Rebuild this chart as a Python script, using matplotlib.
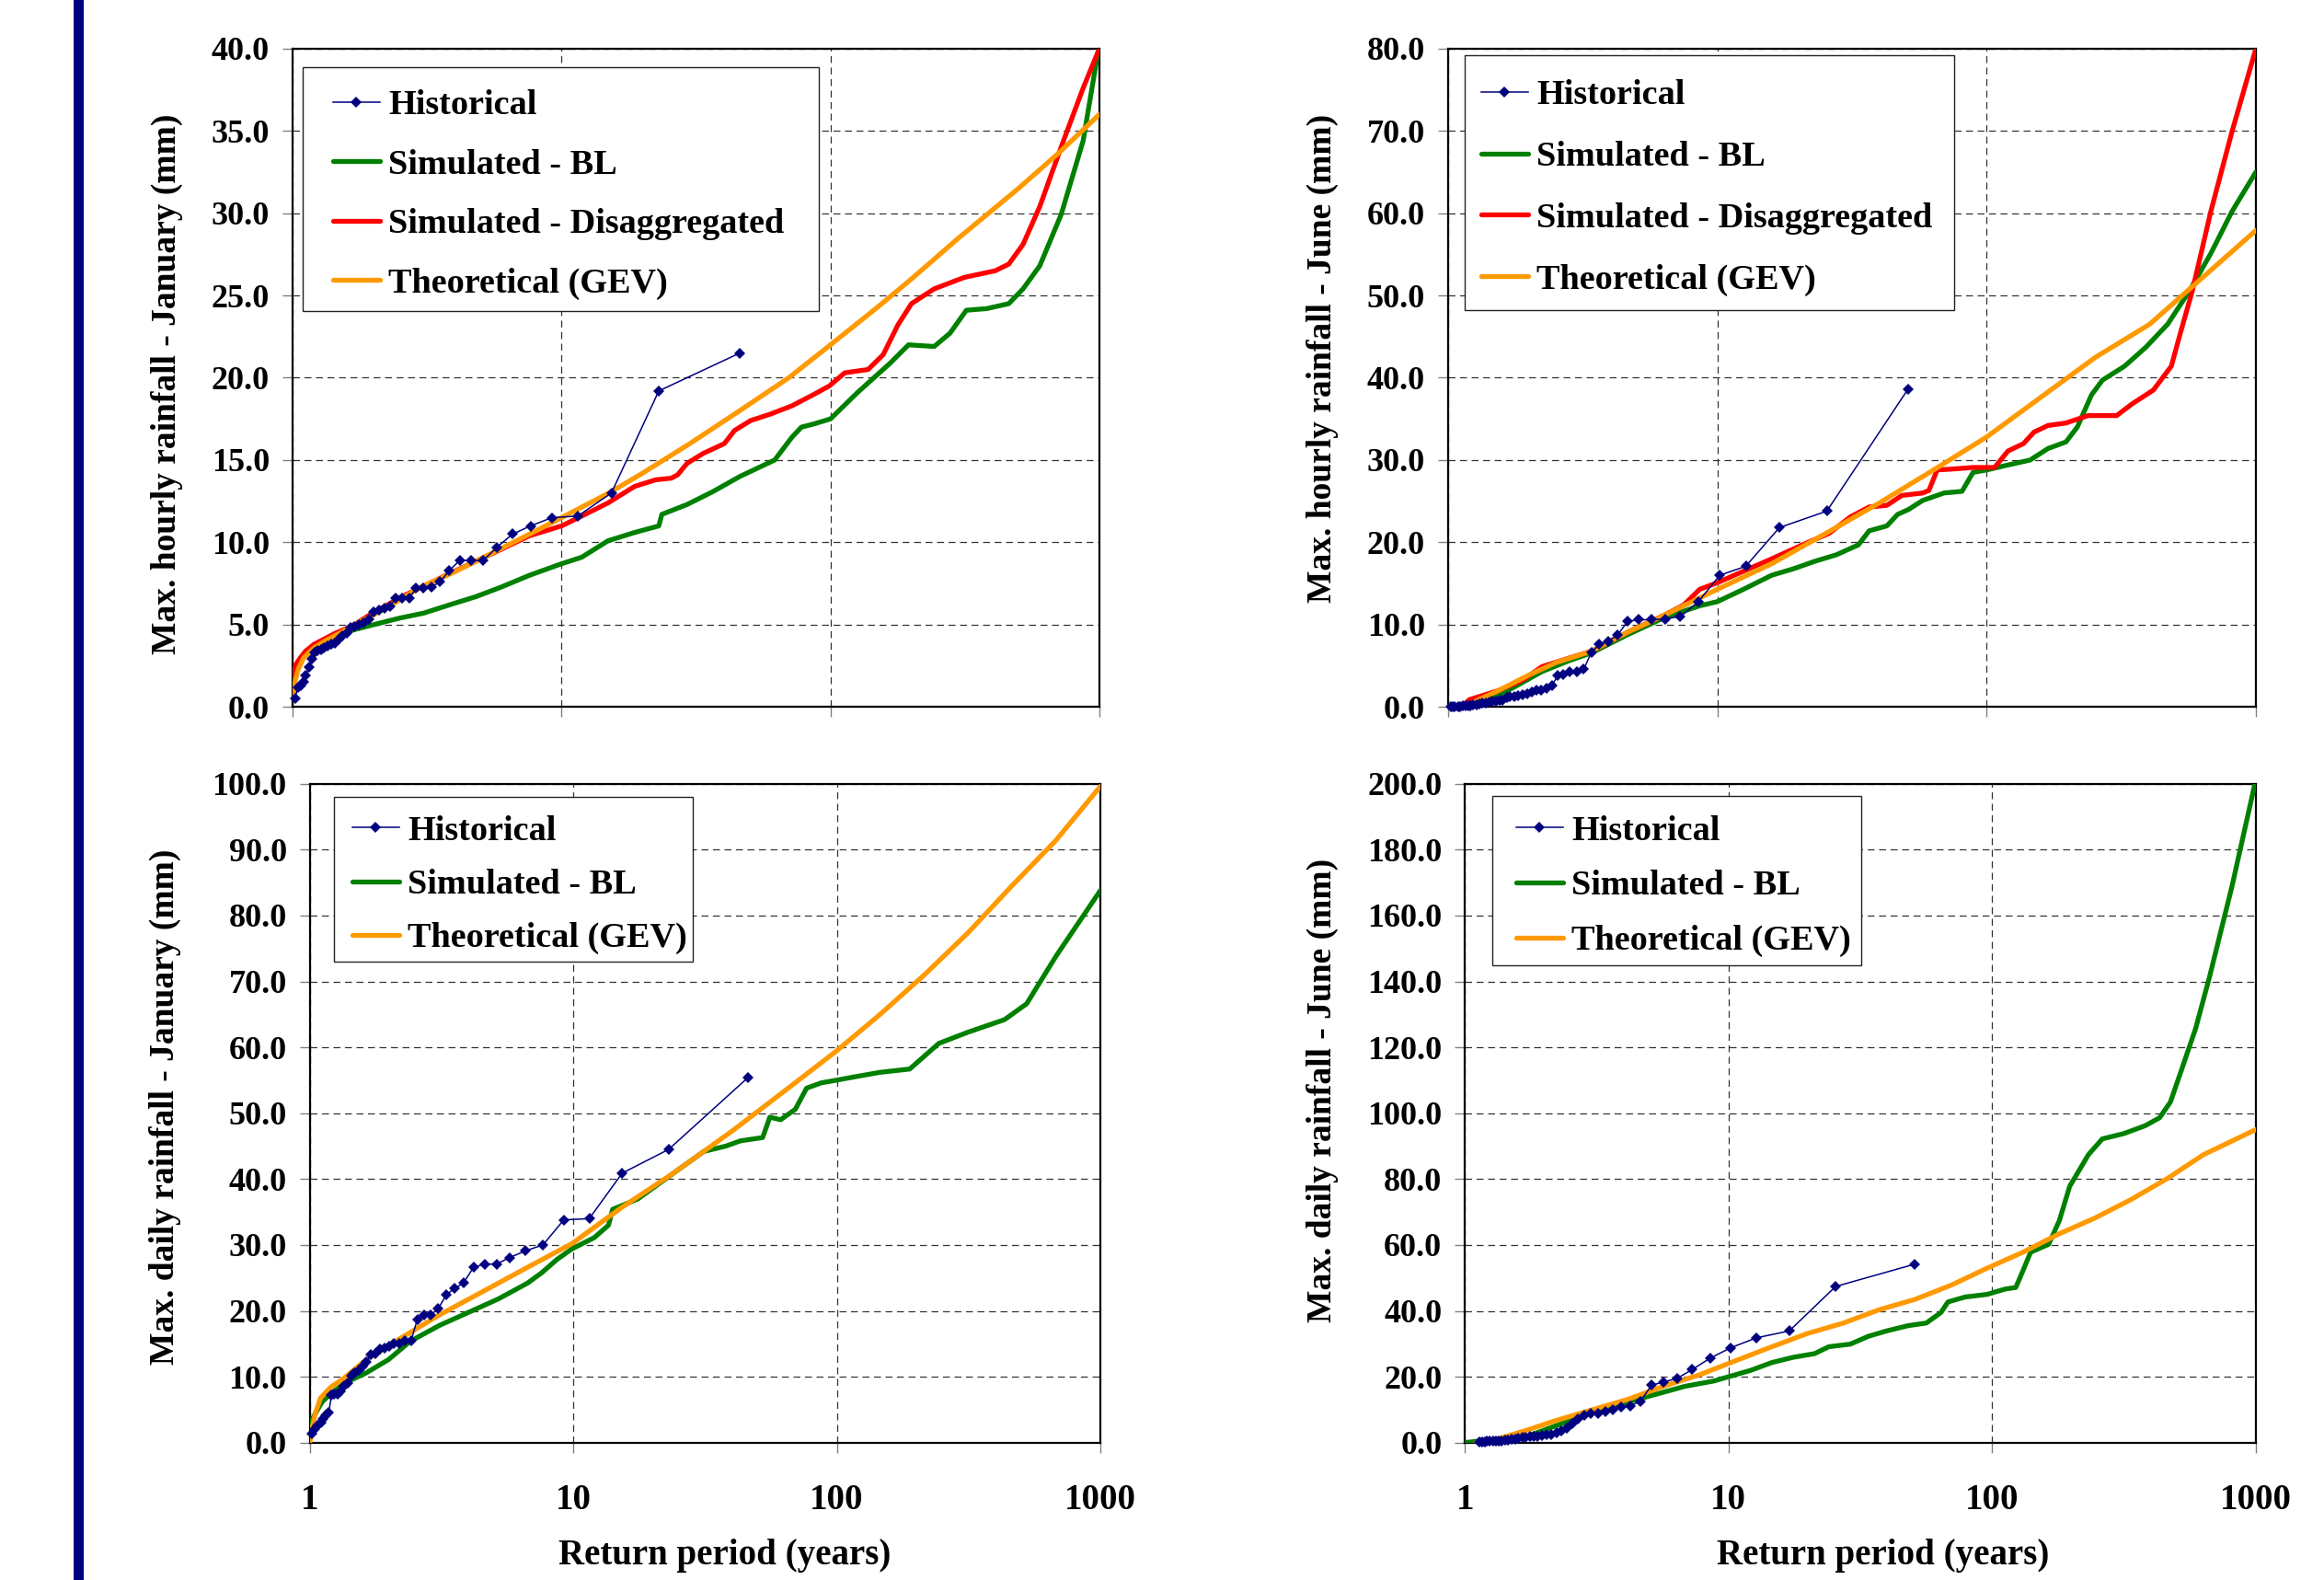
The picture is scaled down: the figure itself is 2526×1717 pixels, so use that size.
import matplotlib
matplotlib.use("Agg")
import matplotlib.pyplot as plt
from matplotlib.patches import Rectangle
from matplotlib.ticker import FixedLocator, NullLocator, FormatStrFormatter

plt.rcParams['font.family'] = ['Liberation Serif', 'DejaVu Serif']
plt.rcParams['font.weight'] = 'bold'
plt.rcParams['axes.labelweight'] = 'bold'

# ---------------- data ----------------
# Historical return periods (years)
hist_T_45 = [46.0, 23.0, 15.33, 11.5, 9.2, 7.67, 6.57, 5.75, 5.11, 4.6,
             4.18, 3.83, 3.54, 3.29, 3.07, 2.88, 2.71, 2.56, 2.42, 2.3,
             2.19, 2.09, 2.0, 1.92, 1.84, 1.77, 1.70, 1.64, 1.59, 1.53,
             1.48, 1.44, 1.39, 1.35, 1.31, 1.28, 1.24, 1.21, 1.18, 1.15,
             1.12, 1.10, 1.07, 1.045, 1.022]
hist_T_50 = [51.0, 25.5, 17.0, 12.75, 10.2, 8.5, 7.29, 6.38, 5.67, 5.1,
             4.64, 4.25, 3.92, 3.64, 3.4, 3.19, 3.0, 2.83, 2.68, 2.55,
             2.43, 2.32, 2.22, 2.13, 2.04, 1.96, 1.89, 1.82, 1.76, 1.70,
             1.65, 1.59, 1.55, 1.50, 1.46, 1.42, 1.38, 1.34, 1.31, 1.28,
             1.24, 1.21, 1.19, 1.16, 1.13, 1.11, 1.09, 1.06, 1.04, 1.02]

# Panel 1: max hourly rainfall - January
jh_hist = [21.5, 19.2, 13.0, 11.6, 11.5, 11.0, 10.5, 9.7, 8.9, 8.9,
           8.9, 8.3, 7.6, 7.3, 7.2, 7.2, 6.6, 6.6, 6.6, 6.1,
           6.0, 5.9, 5.8, 5.3, 5.1, 5.0, 4.9, 4.8, 4.5, 4.3,
           4.1, 3.9, 3.8, 3.7, 3.6, 3.5, 3.4, 3.3, 2.9, 2.4,
           1.9, 1.5, 1.3, 1.2, 0.5]
jh_bl_T = [1.0, 1.03, 1.07, 1.12, 1.2, 1.3, 1.5, 1.7, 2.0, 2.5, 3.07, 4.0, 4.8,
           6.0, 7.6, 10, 11.9, 14.9, 18.7, 23.0, 23.6, 29.3, 36.7, 46, 55, 62,
           72, 78, 87, 100, 126, 167, 195, 243, 278, 320, 381, 460, 520, 600,
           720, 870, 1000]
jh_bl_v = [1.3, 2.2, 2.9, 3.4, 3.7, 4.0, 4.4, 4.7, 5.0, 5.4, 5.7, 6.3, 6.7,
           7.3, 8.0, 8.7, 9.1, 10.1, 10.6, 11.0, 11.7, 12.3, 13.1, 14.0, 14.6, 15.0,
           16.4, 17.0, 17.2, 17.5, 19.1, 20.9, 22.0, 21.9, 22.7, 24.1, 24.2, 24.5, 25.4, 26.8,
           29.9, 34.4, 40.3]
jh_dis_T = [1.0, 1.03, 1.07, 1.12, 1.2, 1.3, 1.45, 1.66, 1.94, 2.55, 3.83, 6.0,
            7.6, 10, 11.9, 14.9, 18.7, 22.4, 25.6, 27, 29.3, 33.6, 40.3, 44,
            50.5, 60, 72, 87, 99, 113, 138, 157, 178, 200, 243, 315, 410, 460,
            520, 600, 720, 870, 1000]
jh_dis_v = [1.9, 2.6, 3.0, 3.4, 3.8, 4.1, 4.5, 4.9, 5.6, 6.7, 8.1, 9.6,
            10.4, 11.0, 11.6, 12.4, 13.4, 13.8, 13.9, 14.1, 14.8, 15.4, 16.0, 16.8,
            17.4, 17.8, 18.3, 19.0, 19.5, 20.3, 20.5, 21.4, 23.2, 24.5, 25.4, 26.1, 26.5, 26.9,
            28.1, 30.4, 34.0, 37.6, 40.0]
jh_gev_T = [1.0, 1.02, 1.05, 1.1, 1.2, 1.35, 1.5, 1.75, 2.0, 2.5, 3.0, 4.0, 5.0,
            7.0, 10, 15, 20, 30, 46, 70, 100, 150, 200, 300, 500, 700, 1000]
jh_gev_v = [0.5, 1.5, 2.3, 3.0, 3.6, 4.1, 4.5, 5.1, 5.6, 6.5, 7.3, 8.2, 9.0,
            10.2, 11.5, 13.0, 14.2, 16.0, 18.0, 20.0, 22.0, 24.3, 26.0, 28.5, 31.5, 33.6, 36.0]

# Panel 2: max hourly rainfall - June
uh_hist = [38.6, 23.8, 21.8, 17.1, 16.0, 12.8, 11.0, 10.7, 10.6, 10.6,
           10.4, 8.7, 8.0, 7.6, 6.6, 4.6, 4.3, 4.3, 4.0, 3.8,
           2.6, 2.3, 2.1, 2.0, 1.8, 1.6, 1.5, 1.4, 1.3, 1.3,
           1.2, 0.8, 0.8, 0.7, 0.7, 0.6, 0.5, 0.5, 0.4, 0.3,
           0.3, 0.2, 0.2, 0.1, 0.1, 0.0, 0.0, 0.0, 0.0, 0.0]
uh_bl_T = [1.15, 1.3, 1.54, 1.8, 2.23, 2.8, 3.42, 4.65, 6.3, 8.6, 10, 12.5, 15.9,
           19.2, 23, 27.7, 33.4, 36.6, 42.6, 46.7, 51.3, 57.9, 69.5, 81, 89, 100,
           120, 145, 169, 197, 217, 245, 269, 325, 390, 470, 565, 680, 815, 1000]
uh_bl_v = [0.0, 0.6, 1.4, 2.6, 4.3, 5.6, 6.6, 8.8, 10.8, 12.3, 12.8, 14.3, 16.0,
           16.8, 17.7, 18.5, 19.7, 21.4, 22.0, 23.4, 24.0, 25.1, 26.0, 26.2, 28.5, 28.8,
           29.4, 30.0, 31.4, 32.2, 34.0, 37.9, 39.7, 41.4, 43.7, 46.5, 50.5, 55.1, 60.2, 65.0]
uh_dis_T = [1.12, 1.2, 1.54, 1.9, 2.23, 2.85, 3.42, 4.65, 6.3, 7.5, 8.6, 10, 12.5,
            15.9, 21.7, 26, 31.2, 36.6, 42.6, 48.4, 57.9, 61, 65.5, 74, 89, 107,
            120, 137, 150, 169, 197, 238, 304, 346, 416, 485, 529, 580, 680, 815, 1000]
uh_dis_v = [0.0, 0.9, 2.0, 3.3, 4.9, 6.0, 6.8, 9.1, 11.1, 12.4, 14.3, 15.1, 16.5,
            18.0, 20.0, 21.1, 23.1, 24.3, 24.5, 25.7, 26.0, 26.3, 28.8, 28.9, 29.1, 29.1,
            31.1, 32.0, 33.4, 34.2, 34.5, 35.4, 35.4, 36.8, 38.5, 41.4, 45.9, 50.5, 60.2, 69.9, 80.0]
uh_gev_T = [1.16, 1.3, 1.54, 2.0, 2.52, 3.42, 4.65, 6.3, 10, 15.9, 25.3, 40, 63.5,
            100, 160, 254, 403, 640, 1000]
uh_gev_v = [0.0, 0.9, 2.0, 3.9, 5.4, 6.8, 9.1, 11.1, 14.3, 17.4, 21.1, 24.8, 28.8,
            32.8, 37.7, 42.5, 46.5, 52.3, 57.9]

# Panel 3: max daily rainfall - January
jd_hist = [55.4, 44.5, 40.9, 34.0, 33.8, 30.0, 29.1, 28.1, 27.1, 27.1,
           26.6, 24.2, 23.4, 22.4, 20.3, 19.4, 19.4, 18.7, 15.4, 15.4,
           15.1, 15.0, 14.6, 14.3, 14.2, 13.5, 13.4, 12.2, 11.6, 11.0,
           10.6, 10.2, 9.0, 8.6, 7.8, 7.4, 7.3, 7.2, 4.6, 4.2,
           3.6, 3.0, 2.6, 2.0, 1.3]
jd_bl_T = [1.0, 1.03, 1.07, 1.115, 1.2, 1.35, 1.64, 1.99, 2.41, 3.11, 4.02, 5.19,
           6.7, 7.6, 8.67, 9.88, 12, 13.6, 14.1, 17.6, 21.3, 25.8, 31.3, 37.9, 43.1,
           52.3, 55.7, 61.2, 69.6, 76.8, 87.3, 99.4, 120, 146, 189, 244, 315, 433,
           525, 678, 1000]
jd_bl_v = [2.6, 3.8, 5.0, 6.2, 7.4, 9.0, 10.6, 12.6, 15.4, 17.8, 19.8, 21.8,
           24.2, 25.8, 27.8, 29.4, 31.1, 33.0, 35.4, 37.0, 39.4, 41.8, 44.2, 45.0, 45.8,
           46.3, 49.4, 49.0, 50.6, 53.8, 54.6, 55.0, 55.6, 56.2, 56.7, 60.6, 62.3, 64.2,
           66.6, 73.8, 83.8]
jd_gev_T = [1.0, 1.02, 1.05, 1.1, 1.2, 1.35, 1.64, 2.12, 3.11, 4.57, 6.7, 9.88,
            15.4, 24.2, 40.4, 67.4, 99.4, 146, 215, 315, 464, 678, 1000]
jd_gev_v = [0.0, 2.2, 4.5, 6.8, 8.4, 9.8, 12.6, 15.4, 19.4, 23.0, 26.6, 30.2,
            35.8, 41.0, 47.4, 54.2, 59.4, 65.0, 71.0, 77.4, 84.6, 91.4, 99.6]

# Panel 4: max daily rainfall - June
ud_hist_T = [51.0, 25.5, 17.0, 12.75, 10.2, 8.5, 7.29, 6.38, 5.67, 5.1,
             4.64, 4.25, 3.92, 3.64, 3.4, 3.19, 3.0, 2.83, 2.68, 2.55,
             2.43, 2.32, 2.22, 2.13, 2.04, 1.96, 1.89, 1.82, 1.76, 1.70,
             1.65, 1.59, 1.55, 1.50, 1.46, 1.42, 1.38, 1.34, 1.31, 1.28,
             1.24, 1.21, 1.19, 1.16, 1.13]
ud_hist = [54.2, 47.4, 33.9, 31.8, 28.8, 25.6, 22.2, 19.5, 18.4, 17.4,
           12.6, 11.2, 10.7, 9.9, 9.4, 8.8, 8.8, 8.3, 7.2, 5.9,
           4.5, 3.5, 3.0, 2.5, 2.3, 2.2, 2.0, 1.9, 1.8, 1.7,
           1.5, 1.2, 1.0, 0.9, 0.8, 0.7, 0.6, 0.6, 0.5, 0.5,
           0.4, 0.4, 0.3, 0.3, 0.2]
ud_bl_T = [1.0, 1.33, 1.72, 2.21, 3.02, 4.14, 5.32, 6.84, 8.8, 10, 12.1, 14.6,
           17.6, 21.2, 24.0, 29.0, 34.0, 39.8, 48.0, 56.3, 64, 68, 79, 95.8, 112,
           123, 131, 140, 164, 180, 197, 232, 262, 316, 381, 432, 475, 522, 592,
           670, 813, 1000]
ud_bl_v = [0.0, 1.1, 1.9, 5.1, 9.1, 12.3, 14.7, 17.1, 18.7, 20.0, 21.9, 24.3,
           25.9, 27.0, 29.1, 29.9, 32.3, 33.9, 35.5, 36.3, 39.5, 42.7, 44.2, 45.0, 46.6,
           47.1, 52.2, 57.8, 60.2, 67.4, 77.8, 87.4, 92.2, 93.8, 96.2, 98.6, 103.4, 112.9, 125.7,
           141.7, 168.8, 201.0]
ud_gev_T = [1.1, 1.33, 1.72, 2.21, 3.02, 4.14, 5.67, 7.77, 10.6, 14.6, 19.9, 27.3,
            37.2, 51.1, 70, 96, 131, 180, 246, 337, 463, 634, 1000]
ud_gev_v = [0.0, 1.1, 3.8, 6.7, 9.9, 13.1, 17.1, 20.6, 24.8, 29.1, 33.1, 36.3,
            40.3, 43.5, 47.8, 53.0, 57.8, 63.4, 68.2, 73.8, 80.2, 87.4, 95.0]

x_ticks = [1, 10, 100, 1000]
x_tick_labels = ['1', '10', '100', '1000']
lbl_hist = 'Historical'
lbl_bl = 'Simulated - BL'
lbl_dis = 'Simulated - Disaggregated'
lbl_gev = 'Theoretical (GEV)'

# ---------------- styling ----------------
C_HIST = '#000080'
C_BL = '#008000'
C_DIS = '#FF0000'
C_GEV = '#FF9900'
W = 2526.0
H = 1717.0
LEG_FS = 27.5

fig = plt.figure(figsize=(W / 100, H / 100), dpi=100)
fig.add_artist(Rectangle((80 / W, 0), 11 / W, 1, transform=fig.transFigure,
                         facecolor='#000080', edgecolor='none'))


def px_axes(l, t, r, b):
    ax = fig.add_axes([l / W, 1 - b / H, (r - l) / W, (b - t) / H])
    ax._px = (l, t, r, b)
    return ax


def to_ax(ax, x, y):
    l, t, r, b = ax._px
    return (x - l) / (r - l), (b - y) / (b - t)


def panel(ax, histT, histv, series, ymax, ystep, ylabel, ylab_xy, xlab_xy,
          frame_px, handle_x, row_centers):
    handles = []
    for T, v, c, lab in series:
        ln, = ax.plot(T, v, color=c, lw=3.8, label=lab, zorder=3,
                      solid_joinstyle='round', solid_capstyle='round')
        handles.append(ln)
    h, = ax.plot(histT, histv, color=C_HIST, lw=1.1, marker='D', markersize=6,
                 markeredgewidth=0, label=lbl_hist, zorder=4, clip_on=False)
    handles = [h] + handles
    ax.set_xscale('log')
    ax.set_xlim(1, 1000)
    ax.set_ylim(0, ymax)
    ax.xaxis.set_major_locator(FixedLocator(x_ticks))
    ax.xaxis.set_minor_locator(NullLocator())
    if xlab_xy is not None:
        ax.set_xticklabels(x_tick_labels)
    else:
        ax.set_xticklabels([])
    ax.set_yticks([i * ystep for i in range(int(round(ymax / ystep)) + 1)])
    ax.yaxis.set_major_formatter(FormatStrFormatter('%.1f'))
    ax.tick_params(axis='both', which='major', direction='out', length=8,
                   width=1.0, color='#808080')
    ax.tick_params(axis='y', labelsize=26, pad=10)
    ax.tick_params(axis='x', labelsize=28, pad=24)
    for s in ax.spines.values():
        s.set_linewidth(1.6)
        s.set_color('black')
    ax.set_axisbelow(True)
    ax.grid(True, which='major', linestyle=(0, (6, 4)), color='#333333',
            linewidth=0.9)
    ax.set_ylabel(ylabel, fontsize=27, fontweight='bold')
    ax.yaxis.set_label_coords(*ylab_xy)
    ax.yaxis.label.set_verticalalignment('center')
    ax.yaxis.label.set_horizontalalignment('center')
    if xlab_xy is not None:
        ax.set_xlabel('Return period (years)', fontsize=28, fontweight='bold')
        ax.xaxis.set_label_coords(*xlab_xy)
        ax.xaxis.label.set_verticalalignment('center')
    # legend frame drawn explicitly
    fl, ft, fr, fb = frame_px
    x0, y0 = to_ax(ax, fl, fb)
    x1, y1 = to_ax(ax, fr, ft)
    ax.add_patch(Rectangle((x0, y0), x1 - x0, y1 - y0, transform=ax.transAxes,
                           facecolor='white', edgecolor='#222222', lw=1.0,
                           zorder=9, clip_on=False))
    cy = (row_centers[0] + row_centers[-1]) / 2.0 + 5
    spacing = (row_centers[-1] - row_centers[0]) / (len(row_centers) - 1)
    fs_px = LEG_FS * 100 / 72.0
    ls = (spacing - 0.95 * fs_px) / fs_px
    ax_x, ax_y = to_ax(ax, handle_x, cy)
    leg = ax.legend(handles=handles, loc='center left',
                    bbox_to_anchor=(ax_x, ax_y), borderaxespad=0,
                    frameon=False, fontsize=LEG_FS, handlelength=1.33,
                    handletextpad=0.25, labelspacing=ls, borderpad=0)
    leg.set_zorder(10)


ax1 = px_axes(318, 52.7, 1195, 768.3)
ax2 = px_axes(1574, 52.7, 2452, 768.3)
ax3 = px_axes(336.7, 851.7, 1196, 1567.7)
ax4 = px_axes(1592.3, 851.7, 2451.7, 1567.7)

panel(ax1, hist_T_45, jh_hist,
      [(jh_bl_T, jh_bl_v, C_BL, lbl_bl), (jh_dis_T, jh_dis_v, C_DIS, lbl_dis),
       (jh_gev_T, jh_gev_v, C_GEV, lbl_gev)],
      40, 5, 'Max. hourly rainfall - January (mm)', (-0.156, 0.49), None,
      (329, 73, 890, 338), 362, [108, 174, 240, 305])
panel(ax2, hist_T_50, uh_hist,
      [(uh_bl_T, uh_bl_v, C_BL, lbl_bl), (uh_dis_T, uh_dis_v, C_DIS, lbl_dis),
       (uh_gev_T, uh_gev_v, C_GEV, lbl_gev)],
      80, 10, 'Max. hourly rainfall - June (mm)', (-0.156, 0.529), None,
      (1592, 60, 2124, 337), 1610, [97, 166, 235, 301])
panel(ax3, hist_T_45, jd_hist,
      [(jd_bl_T, jd_bl_v, C_BL, lbl_bl), (jd_gev_T, jd_gev_v, C_GEV, lbl_gev)],
      100, 10, 'Max. daily rainfall - January (mm)', (-0.1835, 0.51),
      (0.525, -0.172), (363, 866, 753, 1045), 383, [897, 957, 1016])
panel(ax4, ud_hist_T, ud_hist,
      [(ud_bl_T, ud_bl_v, C_BL, lbl_bl), (ud_gev_T, ud_gev_v, C_GEV, lbl_gev)],
      200, 20, 'Max. daily rainfall - June (mm)', (-0.1807, 0.535),
      (0.529, -0.172), (1622, 865, 2023, 1049), 1648, [897, 958, 1019])

fig.savefig('out.png', dpi=100)
